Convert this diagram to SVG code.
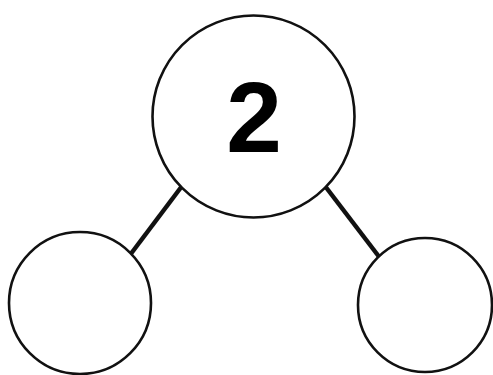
<svg xmlns="http://www.w3.org/2000/svg" width="493" height="375" viewBox="0 0 493 375">
<style>
.n{fill:#fff;stroke:#111;stroke-width:2.6}
.c{stroke:#111;stroke-width:4.5;fill:none}
.t{font-family:"Liberation Sans",Arial,sans-serif;font-weight:bold;font-size:100px;fill:#000;text-anchor:middle}
</style>
<rect width="493" height="375" fill="#fff"/>
<g id="connectors">
<line class="c" x1="182" y1="186" x2="130" y2="255"/>
<line class="c" x1="325" y1="186" x2="380" y2="258"/>
</g>
<g id="top"><circle class="n" cx="253.5" cy="116.5" r="101"/><text class="t" x="254" y="152">2</text></g>
<g id="left"><circle class="n" cx="80" cy="303" r="71"/></g>
<g id="right"><circle class="n" cx="425" cy="305" r="67"/></g>
</svg>
